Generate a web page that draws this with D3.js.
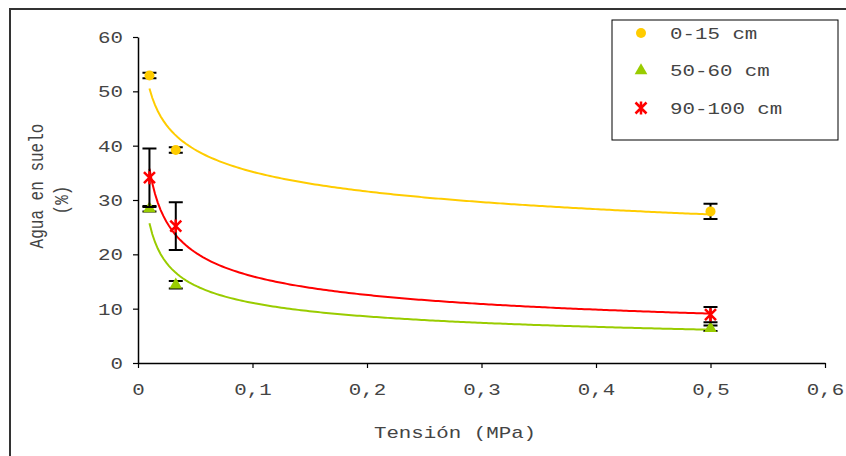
<!DOCTYPE html>
<html>
<head>
<meta charset="utf-8">
<script src="https://cdn.jsdelivr.net/npm/d3@7"></script>
<style>
  body { margin: 0; background: #fff; }
  text { font-family: "Liberation Mono", "DejaVu Sans Mono", monospace; fill: #444; }
</style>
</head>
<body>
<svg id="drawing_region"></svg>
<script>
// tension (MPa) where the samples were taken
const tension = [0.01, 0.033, 0.5];

const seriesNames = ['0-15 cm', '50-60 cm', '90-100 cm'];
const seriesColors = ['#FFCC00', '#99CC00', '#FF0000'];

// soil water (%) and error (+/-) per depth
const agua_0_15 = [52.9, 39.2, 27.9];
const err_0_15 = [0.5, 0.5, 1.4];
const agua_50_60 = [28.4, 14.4, 6.4];
const err_50_60 = [0.5, 0.7, 0.5];
const agua_90_100 = [34.1, 25.2, 8.9];
const err_90_100 = [5.4, 4.4, 1.4];

const xTicks = [0, 0.1, 0.2, 0.3, 0.4, 0.5, 0.6];
const yTicks = [0, 10, 20, 30, 40, 50, 60];

const series = [
    { name: seriesNames[0], color: seriesColors[0], shape: 'circle', y: agua_0_15, err: err_0_15 },
    { name: seriesNames[1], color: seriesColors[1], shape: 'triangle', y: agua_50_60, err: err_50_60 },
    { name: seriesNames[2], color: seriesColors[2], shape: 'star', y: agua_90_100, err: err_90_100 }
];

// power trendline (least squares on logs), like the spreadsheet does
function powerFit(xs, ys) {
    const lx = xs.map(Math.log), ly = ys.map(Math.log);
    const mx = d3.mean(lx), my = d3.mean(ly);
    const b = d3.sum(lx, (v, i) => (v - mx) * (ly[i] - my)) / d3.sum(lx, v => (v - mx) * (v - mx));
    const a = Math.exp(my - b * mx);
    return x => a * Math.pow(x, b);
}

const W = 846, H = 456;
const SX = 1.3; // horizontal text stretch of the original

const svg = d3.select('#drawing_region').attr('width', W).attr('height', H);

// outer frame (top + left)
svg.append('path')
    .attr('d', `M10,${H} L10,9 L${W},9`)
    .attr('fill', 'none').attr('stroke', '#333').attr('stroke-width', 2);

const xscale = d3.scaleLinear().domain([0, 0.6]).range([138, 825]);
const yscale = d3.scaleLinear().domain([0, 60]).range([363, 37]);

const fmtX = d => d === 0 ? '0' : d.toFixed(1).replace('.', ',');

const xaxis = d3.axisBottom(xscale).tickValues(xTicks).tickFormat(fmtX).tickSize(5).tickSizeOuter(0);
const yaxis = d3.axisLeft(yscale).tickValues(yTicks).tickSize(5).tickSizeOuter(0);

const xg = svg.append('g').attr('transform', `translate(0, ${yscale(0)})`).call(xaxis);
const yg = svg.append('g').attr('transform', `translate(${xscale(0)}, 0)`).call(yaxis);

[xg, yg].forEach(g => {
    g.select('.domain').attr('stroke', '#000').attr('stroke-width', 1.5);
    g.selectAll('.tick line').attr('stroke', '#000').attr('stroke-width', 1.2);
    g.selectAll('.tick text').attr('font-size', 16).attr('fill', '#444')
        .style('font-family', '"Liberation Mono", monospace');
});
xg.selectAll('.tick text').attr('y', 0).attr('dy', 0)
    .attr('transform', `translate(0, 32) scale(${SX}, 1)`);
yg.selectAll('.tick text').attr('x', 0).attr('dy', '0.35em')
    .attr('transform', `translate(-15, 0) scale(${SX}, 1)`);

// axis titles
svg.append('text')
    .attr('transform', `translate(455, 438) scale(${SX}, 1)`)
    .attr('text-anchor', 'middle').attr('font-size', 16)
    .text('Tensión (MPa)');

svg.append('text')
    .attr('transform', 'translate(43, 186) rotate(-90) scale(1, ' + SX + ')')
    .attr('text-anchor', 'middle').attr('font-size', 16)
    .text('Agua en suelo');
svg.append('text')
    .attr('transform', 'translate(68, 200) rotate(-90) scale(1, ' + SX + ')')
    .attr('text-anchor', 'middle').attr('font-size', 16)
    .text('(%)');

// marker drawing
function drawMarker(g, shape, color) {
    if (shape === 'circle') {
        g.append('circle').attr('r', 5).attr('fill', color);
    } else if (shape === 'triangle') {
        g.append('path').attr('d', d3.symbol(d3.symbolTriangle, 70)()).attr('fill', color);
    } else {
        const s = 5.5;
        g.append('path')
            .attr('d', `M${-s},${-s}L${s},${s}M${-s},${s}L${s},${-s}M0,${-s - 1}L0,${s + 1}`)
            .attr('stroke', color).attr('stroke-width', 2.5).attr('fill', 'none');
    }
}

const line = d3.line().x(d => xscale(d[0])).y(d => yscale(d[1]));
const xSamples = d3.range(0, 201).map(i => tension[0] + (tension[2] - tension[0]) * i / 200);

const plot = svg.append('g');

// trendlines
series.forEach(s => {
    const f = powerFit(tension, s.y);
    plot.append('path')
        .datum(xSamples.map(x => [x, f(x)]))
        .attr('d', line)
        .attr('fill', 'none').attr('stroke', s.color).attr('stroke-width', 2);
});

// error bars + markers
series.forEach(s => {
    const g = plot.append('g');
    tension.forEach((x, i) => {
        const cx = xscale(x);
        const y0 = yscale(s.y[i] - s.err[i]), y1 = yscale(s.y[i] + s.err[i]);
        g.append('path')
            .attr('d', `M${cx},${y0}L${cx},${y1}M${cx - 7},${y0}L${cx + 7},${y0}M${cx - 7},${y1}L${cx + 7},${y1}`)
            .attr('stroke', '#000').attr('stroke-width', 2).attr('fill', 'none');
    });
    tension.forEach((x, i) => {
        const m = g.append('g').attr('transform', `translate(${xscale(x)}, ${yscale(s.y[i])})`);
        drawMarker(m, s.shape, s.color);
    });
});

// legend
const legend = svg.append('g');
legend.append('rect')
    .attr('x', 612).attr('y', 20).attr('width', 226).attr('height', 120)
    .attr('fill', '#fff').attr('stroke', '#000').attr('stroke-width', 1);
const legendY = d3.scalePoint().domain(seriesNames).range([33, 108]);
series.forEach(s => {
    const m = legend.append('g').attr('transform', `translate(641, ${legendY(s.name)})`);
    drawMarker(m, s.shape, s.color);
    legend.append('text')
        .attr('transform', `translate(670, ${legendY(s.name)}) scale(${SX}, 1)`)
        .attr('dy', '0.35em').attr('font-size', 16)
        .text(s.name);
});
</script>
</body>
</html>
